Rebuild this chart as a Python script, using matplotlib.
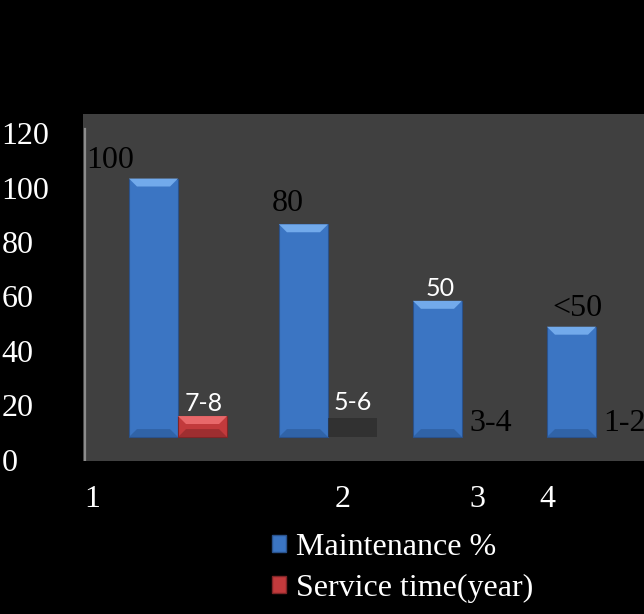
import matplotlib.pyplot as plt
from matplotlib.patches import Patch

# values (bars start above zero, as in the original)
categories = ['1', '2', '3', '4']
bar_base = 8.4
maintenance_top = [103.3, 86.5, 58.4, 48.9]
maintenance_labels = ['100', '80', '50', '<50']
service_top = [16.1, 15.3, 8.4, 8.4]
service_labels = ['7-8', '5-6', '3-4', '1-2']
y_ticks = [0, 20, 40, 60, 80, 100, 120]

# layout
bar_pos = [0, 1.119, 2.119, 3.119]
tick_pos = [-0.459, 1.414, 2.414, 2.937]
width = 0.366
px_x = 134.0   # pixels per x unit
px_y = 2.74    # pixels per y unit

serif = 'Liberation Serif'
sans = 'Lato'
fs = 23

fig = plt.figure(figsize=(6.44, 6.14), dpi=100, facecolor='black')
ax = fig.add_axes([83 / 644, 153 / 614, 561 / 644, 347 / 614])
ax.set_facecolor('#404040')
ax.set_xlim(-0.526, 3.66)
ax.set_ylim(-0.4, 127)
for s in ax.spines.values():
    s.set_visible(False)
ax.axvline(-0.51, ymin=0.0, ymax=(460 - 128) / 347, color='#8c8c8c', lw=1.6)


def bevel_bar(x, top, color, light, dark, edge):
    h = top - bar_base
    if h <= 0:
        return
    ax.bar(x, h, width, bottom=bar_base, color=color, edgecolor=edge, lw=0.8, zorder=2)
    bx = 8 / px_x
    by = min(8 / px_y, h / 2)
    l, r = x - width / 2, x + width / 2
    ax.fill([l, r, r - bx, l + bx], [top, top, top - by, top - by], color=light, zorder=3, lw=0)
    ax.fill([l, r, r - bx, l + bx], [bar_base, bar_base, bar_base + by, bar_base + by],
            color=dark, alpha=0.7, zorder=3, lw=0)


for x, t in zip(bar_pos, maintenance_top):
    bevel_bar(x, t, '#3b75c3', '#72aaeb', '#2c5c9c', '#2a528c')

# service time: first bar red, second only a dark shadow
bevel_bar(bar_pos[0] + width, service_top[0], '#c23a3c', '#e8686a', '#8f2a2c', '#7f2527')
ax.bar(bar_pos[1] + width, service_top[1] - bar_base, width, bottom=bar_base,
       color='#262626', alpha=0.55, zorder=2)

# data labels
m_style = [(serif, 'black'), (serif, 'black'), (sans, 'white'), (serif, 'black')]
m_off = [(-43.5, 11), (-15.5, 13), (2.5, 5), (5.5, 11)]
for x, t, lab, (fam, col), (dx, dy) in zip(bar_pos, maintenance_top, maintenance_labels, m_style, m_off):
    ax.annotate(lab, (x, t), xytext=(dx, dy), textcoords='offset pixels', ha='center',
                va='baseline', family=fam, color=col, fontsize=fs if fam == serif else 18,
                annotation_clip=False, zorder=5)

s_style = [(sans, 'white'), (sans, 'white'), (serif, 'black'), (serif, 'black')]
s_off = [(1, 5), (0, 8), (4, 6), (4, 6)]
for x, t, lab, (fam, col), (dx, dy) in zip(bar_pos, service_top, service_labels, s_style, s_off):
    ax.annotate(lab, (x + width, t), xytext=(dx, dy), textcoords='offset pixels', ha='center',
                va='baseline', family=fam, color=col, fontsize=fs if fam == serif else 18,
                annotation_clip=False, zorder=5)

ax.set_yticks(y_ticks)
ax.set_yticklabels([str(v) for v in y_ticks], family=serif, fontsize=fs, color='white', ha='left')
ax.tick_params(axis='y', length=0, pad=58.5)
ax.set_xticks(tick_pos)
ax.set_xticklabels(categories, family=serif, fontsize=fs, color='white')
ax.tick_params(axis='x', length=0, pad=17)

handles = [Patch(facecolor='#3b75c3', edgecolor='#2a528c'),
           Patch(facecolor='#c23a3c', edgecolor='#7f2527')]
fig.legend(handles, ['Maintenance %', 'Service time(year)'], loc='upper left',
           bbox_to_anchor=(272 / 644, 1 - 533 / 614), frameon=False,
           prop={'family': serif, 'size': fs}, labelcolor='white',
           handlelength=0.45, handleheight=0.45, handletextpad=0.3,
           borderpad=0, borderaxespad=0, labelspacing=0.38)

fig.savefig('out.png', dpi=100, facecolor='black')
